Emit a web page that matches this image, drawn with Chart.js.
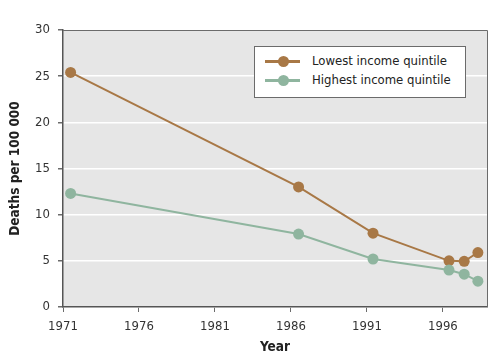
<!DOCTYPE html>
<html>
<head>
<meta charset="utf-8">
<script src="https://cdn.jsdelivr.net/npm/chart.js@4"></script>
<style>
  html, body { margin: 0; padding: 0; background: #fff; }
  #wrap { position: relative; width: 500px; height: 363px; }
  #legend {
    position: absolute; left: 254px; top: 46px; width: 210px; height: 50px;
    background: #fff; border: 1px solid #6b6b6b;
    font-family: 'DejaVu Sans Condensed', 'DejaVu Sans', sans-serif; font-size: 13px; color: #222;
  }
  .row { position: absolute; left: 0; height: 18px; line-height: 18px; }
  .sample { position: absolute; left: 10px; top: 8px; width: 35px; height: 3px; }
  .dot { position: absolute; left: 23px; top: 4px; width: 11px; height: 11px; border-radius: 50%; }
  .txt { position: absolute; left: 57px; top: 0; white-space: nowrap; }
</style>
</head>
<body>
<div id="wrap">
  <canvas id="c" width="500" height="363"></canvas>
  <div id="legend"></div>
</div>
<script>
// years as plotted (points sit a little right of the tick years)
const years = [1971.5, 1986.5, 1991.4, 1996.4, 1997.4, 1998.3];
const lowest = [25.4, 13.0, 8.0, 5.0, 4.95, 5.9];
const highest = [12.3, 7.9, 5.2, 4.0, 3.55, 2.8];
const xTicks = [1971, 1976, 1981, 1986, 1991, 1996];
const yTicks = [0, 5, 10, 15, 20, 25, 30];
const seriesNames = ["Lowest income quintile", "Highest income quintile"];
const seriesColors = ["#a87846", "#8fb59f"];

const fontFam = "'DejaVu Sans Condensed', 'DejaVu Sans', sans-serif";

// grey plot area with a frame
const plotBox = {
  id: "plotBox",
  beforeDraw(chart) {
    const a = chart.chartArea, ctx = chart.ctx;
    ctx.save();
    ctx.fillStyle = "#e6e6e6";
    ctx.fillRect(a.left, a.top, a.right - a.left, a.bottom - a.top);
    ctx.restore();
  },
  afterDraw(chart) {
    const a = chart.chartArea, ctx = chart.ctx;
    ctx.save();
    ctx.strokeStyle = "#6b6b6b";
    ctx.lineWidth = 1;
    ctx.beginPath();
    ctx.moveTo(a.left, a.top + 0.5);
    ctx.lineTo(a.right + 0.5, a.top + 0.5);
    ctx.lineTo(a.right + 0.5, a.bottom);
    ctx.stroke();
    ctx.restore();
  }
};

function makeSet(i, vals) {
  return {
    label: seriesNames[i],
    data: years.map((y, k) => ({ x: y, y: vals[k] })),
    borderColor: seriesColors[i],
    backgroundColor: seriesColors[i],
    borderWidth: 2,
    pointRadius: 5.5,
    pointHoverRadius: 5.5,
    pointBorderWidth: 0,
    tension: 0
  };
}

new Chart(document.getElementById("c"), {
  type: "line",
  data: { datasets: [makeSet(1, highest), makeSet(0, lowest)] },
  options: {
    responsive: false,
    animation: false,
    layout: { padding: { top: 30, right: 13, left: 0, bottom: 0 } },
    plugins: { legend: { display: false }, tooltip: { enabled: false } },
    scales: {
      x: {
        type: "linear",
        min: 1971,
        max: 1998.9,
        afterBuildTicks: ax => { ax.ticks = xTicks.map(v => ({ value: v })); },
        afterFit: ax => { ax.height = 56; },
        grid: { drawOnChartArea: false, tickColor: "#6b6b6b", tickLength: 5 },
        border: { color: "#555", width: 1.5 },
        ticks: {
          callback: v => String(v),
          color: "#333", font: { family: fontFam, size: 13 }, padding: 7,
          maxRotation: 0, autoSkip: false
        },
        title: {
          display: true, text: "Year", color: "#222",
          font: { family: fontFam, size: 13.5, weight: "bold" }, padding: { top: 2, bottom: 7 }
        }
      },
      y: {
        min: 0,
        max: 30,
        afterBuildTicks: ax => { ax.ticks = yTicks.map(v => ({ value: v })); },
        afterFit: ax => { ax.width = 63; },
        grid: { color: "#ffffff", lineWidth: 1.5, tickColor: "#6b6b6b", tickLength: 5 },
        border: { color: "#555", width: 1.5 },
        ticks: { color: "#333", font: { family: fontFam, size: 13 }, padding: 8 },
        title: {
          display: true, text: "Deaths per 100 000", color: "#222",
          font: { family: fontFam, size: 13.5, weight: "bold" }, padding: { top: 7, bottom: 4 }
        }
      }
    }
  },
  plugins: [plotBox]
});

// legend inside the plot
const leg = document.getElementById("legend");
seriesNames.forEach((name, i) => {
  const row = document.createElement("div");
  row.className = "row";
  row.style.top = (5 + i * 19) + "px";
  row.style.width = "100%";
  row.innerHTML =
    `<div class="sample" style="background:${seriesColors[i]}"></div>` +
    `<div class="dot" style="background:${seriesColors[i]}"></div>` +
    `<div class="txt"></div>`;
  row.querySelector(".txt").textContent = name;
  leg.appendChild(row);
});
</script>
</body>
</html>
